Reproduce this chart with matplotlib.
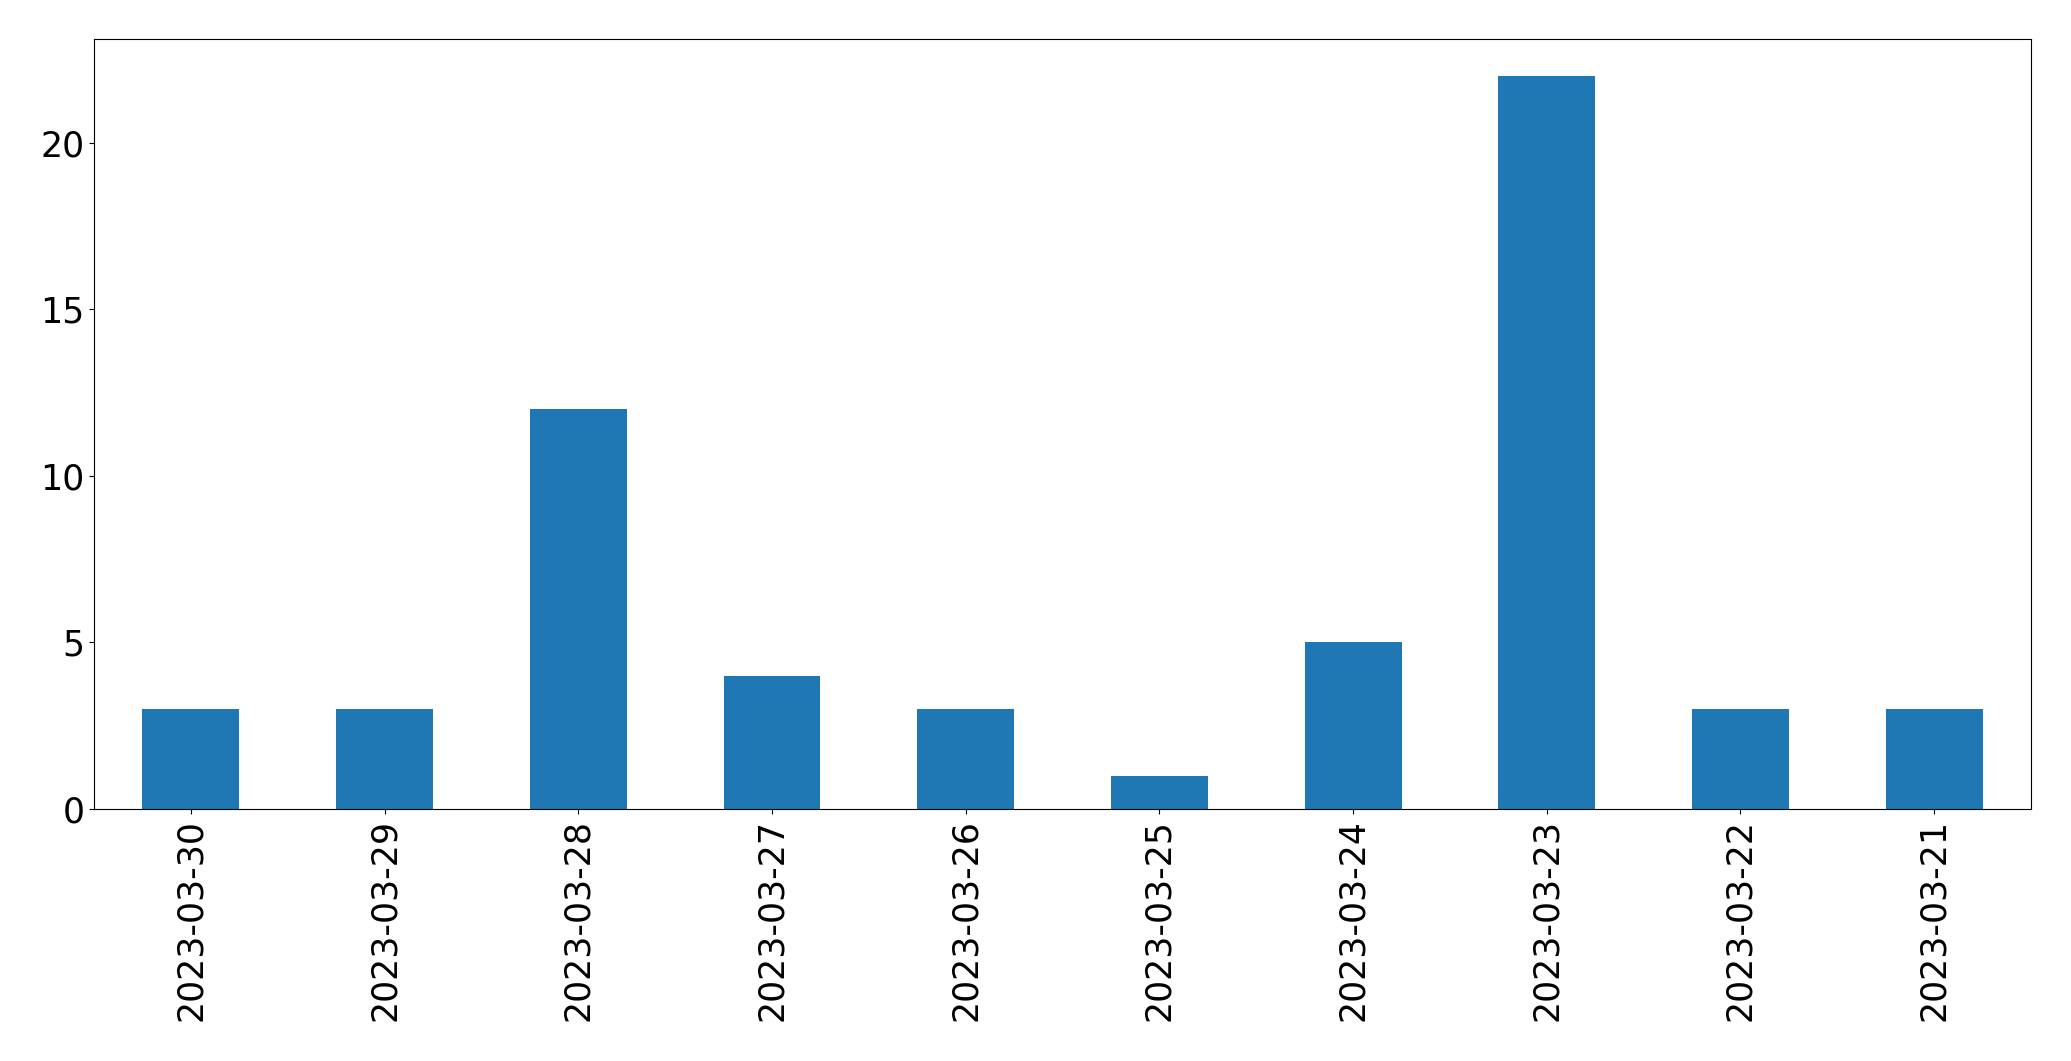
import matplotlib
matplotlib.use("Agg")
import matplotlib.pyplot as plt
import pandas as pd

dates = ["2023-03-30", "2023-03-29", "2023-03-28", "2023-03-27", "2023-03-26",
         "2023-03-25", "2023-03-24", "2023-03-23", "2023-03-22", "2023-03-21"]
counts = [3, 3, 12, 4, 3, 1, 5, 22, 3, 3]

s = pd.Series(counts, index=dates)

fig, ax = plt.subplots(figsize=(20.71, 10.61), dpi=100)
s.plot(kind="bar", ax=ax, color="#1f77b4", fontsize=25)
ax.tick_params(labelsize=25)

fig.subplots_adjust(left=0.0454, right=0.9807, top=0.963, bottom=0.2375)
plt.savefig("out.png", dpi=100)
